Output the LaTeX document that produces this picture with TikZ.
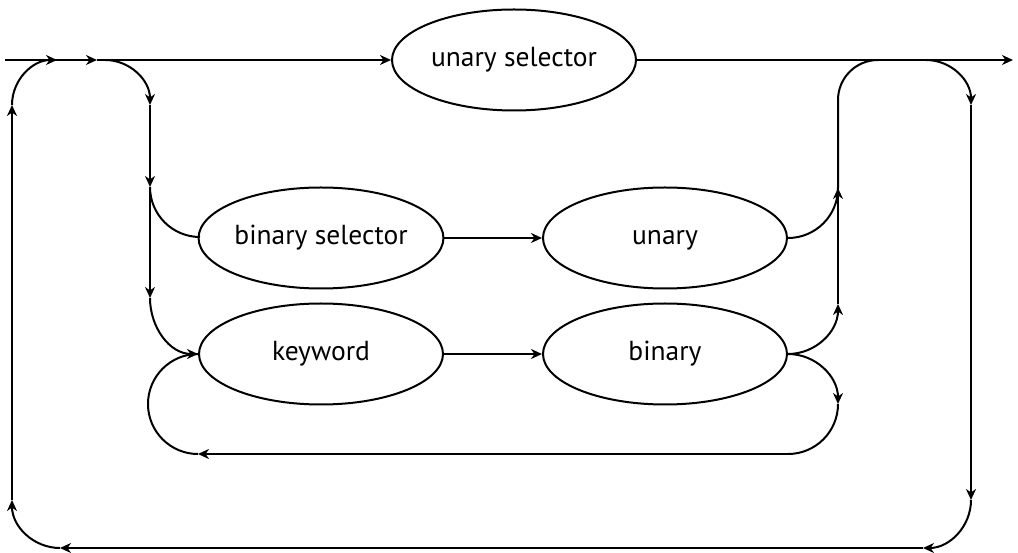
\documentclass[tikz,border=0pt]{standalone}
\usepackage{fontspec}
\setmainfont{PT Sans}
\usetikzlibrary{arrows.meta,shapes.geometric}
\begin{document}
\begin{tikzpicture}[x=1pt,y=1pt,
  line width=2pt,
  >={Stealth[length=11pt,width=10pt,inset=3.5pt]},
  term/.style={draw,ellipse,minimum width=244pt,minimum height=101pt,inner sep=0pt,
    text height=19pt,text depth=5pt,
    font=\fontsize{27.5}{32}\selectfont}]
\useasboundingbox (0,0) rectangle (1018,552);
% terms
\node[term] (us) at (514,492) {unary selector};
\node[term] (bs) at (321,314) {binary selector};
\node[term] (un) at (665,314) {unary};
\node[term] (kw) at (321,198) {keyword};
\node[term] (bi) at (665,198) {binary};
% junction coordinates
\coordinate (st) at (5,492);
\coordinate (m1) at (97,492);
\coordinate (en) at (1013,492);
\coordinate (j1) at (105,492);
\coordinate (O1) at (926,492);
\coordinate (O2) at (971,447);
\coordinate (O3) at (971,52);
\coordinate (O4) at (923,4);
\coordinate (O5) at (60,4);
\coordinate (O6) at (12,52);
\coordinate (O7) at (12,447);
\coordinate (L1) at (150,447);
\coordinate (L2) at (150,365);
\coordinate (L3) at (150,254);
\coordinate (R1) at (838,248);
\coordinate (R2) at (838,364);
\coordinate (R3) at (838,452);
\coordinate (K1) at (838,148);
\coordinate (K2) at (788,98);
\coordinate (K3) at (198,98);
% main line
\draw[->] (st) -- (m1);
\draw[->] (m1) -- (us.west);
\draw[->] (us.east) -- (en);
% outer loop
\draw[->] (O1) arc[start angle=90,end angle=0,radius=45];
\draw[->] (O2) -- (O3);
\draw[->] (O3) arc[start angle=0,end angle=-90,radius=48];
\draw[->] (O4) -- (O5);
\draw[->] (O5) arc[start angle=270,end angle=180,radius=48];
\draw[->] (O6) -- (O7);
\draw[->] (O7) arc[start angle=180,end angle=90,radius=45];
% left inner branch
\draw[->] (j1) arc[start angle=90,end angle=0,radius=45];
\draw[->] (L1) -- (L2);
\draw (L2) arc[start angle=180,end angle=270,radius=50];
\draw[->] (L2) -- (L3);
\draw[->] (L3) to[out=-90,in=180] (kw.west);
% middle
\draw[->] (bs.east) -- (un.west);
\draw[->] (kw.east) -- (bi.west);
% right inner branch
\draw[->] (bi.east) arc[start angle=270,end angle=360,radius=50];
\draw[->] (R1) -- (R2);
\draw (un.east) arc[start angle=270,end angle=360,radius=50];
\draw (R2) -- (R3) arc[start angle=180,end angle=90,radius=40];
% keyword loop
\draw[->] (bi.east) arc[start angle=90,end angle=0,radius=50];
\draw (K1) arc[start angle=0,end angle=-90,radius=50];
\draw[->] (K2) -- (K3);
\draw (K3) arc[start angle=270,end angle=90,radius=50];
\end{tikzpicture}
\end{document}
